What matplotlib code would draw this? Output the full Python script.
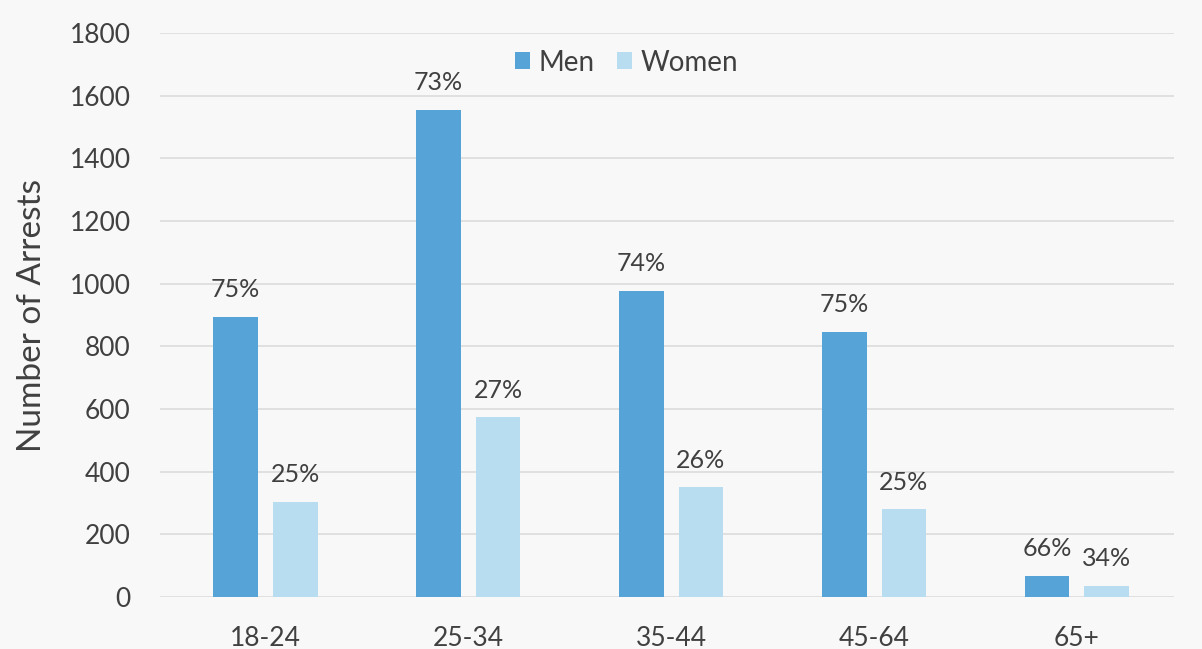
import numpy as np
import matplotlib.pyplot as plt

plt.rcParams['font.family'] = ['Lato', 'DejaVu Sans']

# Arrests by age group, split by gender
age_groups = ['18-24', '25-34', '35-44', '45-64', '65+']
men = [895, 1555, 978, 846, 68]
women = [305, 574, 350, 280, 35]
men_pct = ['75%', '73%', '74%', '75%', '66%']
women_pct = ['25%', '27%', '26%', '25%', '34%']

men_color = '#55a3d7'
women_color = '#b8ddf1'
text_color = '#404040'

fig = plt.figure(figsize=(12.02, 6.49), dpi=100, facecolor='#f8f8f8')
ax = fig.add_axes([0.133, 0.08, 0.844, 0.869])
ax.set_facecolor('#f8f8f8')

x = np.arange(len(age_groups))
width = 0.22
offset = 0.147

ax.bar(x - offset, men, width, color=men_color, label='Men', zorder=3)
ax.bar(x + offset, women, width, color=women_color, label='Women', zorder=3)

# Percentage share labels above each bar
for xi, m, w, mp, wp in zip(x, men, women, men_pct, women_pct):
    ax.text(xi - offset, m + 50, mp, ha='center', va='bottom',
            fontsize=18, color=text_color)
    ax.text(xi + offset, w + 50, wp, ha='center', va='bottom',
            fontsize=18, color=text_color)

ax.set_xlim(-0.52, 4.48)
ax.set_ylim(0, 1800)
ax.set_yticks(range(0, 1801, 200))
ax.set_xticks(x)
ax.set_xticklabels(age_groups)
ax.tick_params(axis='y', length=0, labelsize=19, colors=text_color, pad=21)
ax.tick_params(axis='x', length=0, labelsize=19, colors=text_color, pad=21)

ax.grid(axis='y', color='#dcdcdc', linewidth=1.2, zorder=0)
for side in ax.spines.values():
    side.set_visible(False)

ax.set_ylabel('Number of Arrests', fontsize=24, color=text_color, labelpad=16)

ax.legend(loc='upper center', bbox_to_anchor=(0.46, 1.015), ncol=2, frameon=False,
          fontsize=20, handlelength=0.55, handleheight=0.55, handletextpad=0.3,
          columnspacing=0.8, labelcolor=text_color)

fig.savefig('out.png', dpi=100, facecolor=fig.get_facecolor())
